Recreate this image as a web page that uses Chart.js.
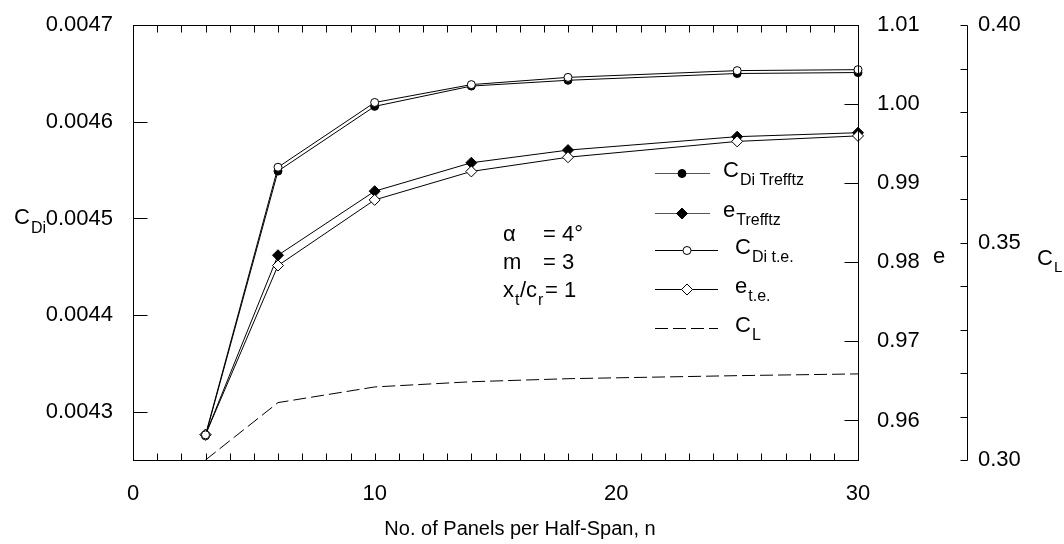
<!DOCTYPE html>
<html>
<head>
<meta charset="utf-8">
<script src="https://cdn.jsdelivr.net/npm/chart.js@4"></script>
<style>
  html, body { margin: 0; padding: 0; background: #fff; }
  #wrap { width: 1064px; height: 544px; }
</style>
</head>
<body>
<div id="wrap"><canvas id="chart" width="1064" height="544"></canvas></div>
<script>
// panels per half-span, n
const panels = [3, 6, 10, 14, 18, 25, 30];

// induced drag coefficient (left axis)
const cdiTrefftz = [0.004275, 0.004549, 0.004616, 0.004637, 0.004643, 0.004650, 0.004651];
const cdiTE      = [0.004276, 0.004553, 0.004620, 0.0046385, 0.004646, 0.004653, 0.004654];

// span efficiency e (first right axis)
const eTrefftz = [0.9582, 0.9809, 0.9890, 0.9926, 0.9942, 0.9959, 0.9964];
const eTE      = [0.9582, 0.9796, 0.9879, 0.9915, 0.9933, 0.9953, 0.9960];

// lift coefficient (second right axis)
const cl = [0.300, 0.3132, 0.3168, 0.3180, 0.3187, 0.3194, 0.3198];

// tick values
const xTicks = [0, 1, 2, 3, 4, 5, 6, 7, 8, 9, 10, 11, 12, 13, 14, 15, 16, 17, 18, 19, 20,
                21, 22, 23, 24, 25, 26, 27, 28, 29, 30];
const cdiTicks = [0.0043, 0.0044, 0.0045, 0.0046, 0.0047];
const eTicks = [0.96, 0.97, 0.98, 0.99, 1.00, 1.01];
const clTicks = [0.30, 0.31, 0.32, 0.33, 0.34, 0.35, 0.36, 0.37, 0.38, 0.39, 0.40];
const clLabelled = [0.30, 0.35, 0.40];

const FONT = "'Liberation Sans', Arial, sans-serif";
const tickFont = { family: FONT, size: 22 };

const pts = arr => panels.map((x, i) => ({ x: x, y: arr[i] }));

function setTicks(list) {
    return scale => { scale.ticks = list.map(v => ({ value: v })); };
}

// draws a label with a subscript part
function subText(ctx, x, y, main, sub, size, subSize, drop) {
    ctx.font = size + 'px ' + FONT;
    ctx.fillText(main, x, y);
    const w = ctx.measureText(main).width;
    ctx.font = subSize + 'px ' + FONT;
    ctx.fillText(sub, x + w + 1, y + drop);
}

const decorations = {
    id: 'decorations',
    afterDraw(chart) {
        const { ctx, chartArea: a, scales } = chart;
        const P = Chart.helpers.drawPoint;
        ctx.save();
        ctx.strokeStyle = '#000';
        ctx.lineWidth = 1;
        const seg = (x1, y1, x2, y2) => {
            ctx.beginPath(); ctx.moveTo(x1, y1); ctx.lineTo(x2, y2); ctx.stroke();
        };
        const L = Math.round(a.left) + 0.5, R = Math.round(a.right) + 0.5;
        const T = Math.round(a.top) + 0.5, B = Math.round(a.bottom) + 0.5;

        // frame
        ctx.strokeRect(L, T, R - L, B - T);

        // x ticks, bottom and top, pointing inward
        scales.x.ticks.forEach(t => {
            const px = Math.round(scales.x.getPixelForValue(t.value)) + 0.5;
            seg(px, B, px, B - 7);
            seg(px, T, px, T + 7);
        });
        // left axis ticks
        scales.y.ticks.forEach(t => {
            const py = Math.round(scales.y.getPixelForValue(t.value)) + 0.5;
            seg(L, py, L + 14, py);
        });
        // e axis ticks
        scales.e.ticks.forEach(t => {
            const py = Math.round(scales.e.getPixelForValue(t.value)) + 0.5;
            seg(R - 14, py, R, py);
        });
        // CL axis, separate line
        const cx = Math.round(scales.cl.left + 9) + 0.5;
        seg(cx, T, cx, B);
        scales.cl.ticks.forEach(t => {
            const py = Math.round(scales.cl.getPixelForValue(t.value)) + 0.5;
            seg(cx - 7, py, cx, py);
        });

        ctx.fillStyle = '#000';
        ctx.textBaseline = 'alphabetic';
        ctx.textAlign = 'left';

        // axis titles
        subText(ctx, 14, 224, 'C', 'Di', 22, 16, 9);
        ctx.font = '22px ' + FONT;
        ctx.fillText('e', 933, 263);
        subText(ctx, 1037, 265, 'C', 'L', 22, 15, 7);
        ctx.textAlign = 'center';
        ctx.font = '20px ' + FONT;
        ctx.fillText('No. of Panels per Half-Span, n', 520, 535);
        ctx.textAlign = 'left';

        // parameters
        ctx.font = '22px ' + FONT;
        ctx.fillText('\u03b1', 503, 241);
        ctx.fillText('= 4\u00b0', 543, 241);
        ctx.fillText('m', 503, 269);
        ctx.fillText('= 3', 543, 269);
        ctx.fillText('x', 503, 297);
        ctx.fillText('/c', 520, 297);
        ctx.fillText('= 1', 545, 297);
        ctx.font = '16px ' + FONT;
        ctx.fillText('t', 515, 305);
        ctx.fillText('r', 538, 305);

        // legend
        const rows = [
            { y: 173, x2: 710, mx: 682, tx: 723, main: 'C', sub: 'Di Trefftz', style: 'circle', r: 4, fill: '#000', stroke: '#555' },
            { y: 213, x2: 710, mx: 682, tx: 723, main: 'e', sub: 'Trefftz', style: 'rectRot', r: 5.5, fill: '#000', stroke: '#555' },
            { y: 250, x2: 718, mx: 687, tx: 735, main: 'C', sub: 'Di t.e.', style: 'circle', r: 4, fill: '#fff', stroke: '#000' },
            { y: 289, x2: 718, mx: 687, tx: 735, main: 'e', sub: 't.e.', style: 'rectRot', r: 5.5, fill: '#fff', stroke: '#000' },
            { y: 328, x2: 718, mx: null, tx: 735, main: 'C', sub: 'L', dash: true, stroke: '#000' }
        ];
        rows.forEach(r => {
            const y = r.y + 0.5;
            ctx.strokeStyle = r.stroke;
            if (r.dash) ctx.setLineDash([13, 5]);
            seg(655, y, r.x2, y);
            ctx.setLineDash([]);
            if (r.mx !== null) {
                ctx.fillStyle = r.fill;
                ctx.strokeStyle = '#000';
                P(ctx, { pointStyle: r.style, radius: r.r, rotation: 0, borderWidth: 1 }, r.mx, y);
            }
            ctx.fillStyle = '#000';
            subText(ctx, r.tx, r.y + 4, r.main, r.sub, 22, 16, 8);
        });
        ctx.restore();
    }
};

const ctx = document.getElementById('chart').getContext('2d');

new Chart(ctx, {
    type: 'line',
    data: {
        datasets: [
            {
                data: pts(cdiTE), yAxisID: 'y', order: 0,
                borderColor: '#000', borderWidth: 1,
                pointStyle: 'circle', pointRadius: 4, pointBackgroundColor: '#fff',
                pointBorderColor: '#000', pointBorderWidth: 1, clip: false
            },
            {
                data: pts(eTE), yAxisID: 'e', order: 0,
                borderColor: '#000', borderWidth: 1,
                pointStyle: 'rectRot', pointRadius: 5.5, pointBackgroundColor: '#fff',
                pointBorderColor: '#000', pointBorderWidth: 1, clip: false
            },
            {
                data: pts(cdiTrefftz), yAxisID: 'y', order: 1,
                borderColor: '#000', borderWidth: 1,
                pointStyle: 'circle', pointRadius: 4, pointBackgroundColor: '#000',
                pointBorderColor: '#000', pointBorderWidth: 1, clip: false
            },
            {
                data: pts(eTrefftz), yAxisID: 'e', order: 1,
                borderColor: '#000', borderWidth: 1,
                pointStyle: 'rectRot', pointRadius: 5.5, pointBackgroundColor: '#000',
                pointBorderColor: '#000', pointBorderWidth: 1, clip: false
            },
            {
                data: pts(cl), yAxisID: 'cl', order: 2,
                borderColor: '#000', borderWidth: 1, borderDash: [13, 5],
                pointRadius: 0, clip: false
            }
        ]
    },
    options: {
        responsive: false,
        animation: false,
        layout: { padding: { top: 21, left: 0, right: 0, bottom: 0 } },
        plugins: { legend: { display: false }, tooltip: { enabled: false } },
        scales: {
            x: {
                type: 'linear', position: 'bottom', min: 0, max: 30,
                grid: { display: false }, border: { display: false },
                afterBuildTicks: setTicks(xTicks),
                afterFit: s => { s.height = 84; },
                ticks: {
                    autoSkip: false, maxRotation: 0, padding: 13, color: '#000', font: tickFont,
                    callback: v => (v % 10 === 0 ? String(v) : '')
                }
            },
            y: {
                position: 'left', min: 0.00425, max: 0.0047,
                grid: { display: false }, border: { display: false },
                afterBuildTicks: setTicks(cdiTicks),
                afterFit: s => { s.width = 133; },
                ticks: { padding: 12, color: '#000', font: tickFont, callback: v => v.toFixed(4) }
            },
            e: {
                position: 'right', weight: 0, min: 0.955, max: 1.01,
                grid: { display: false }, border: { display: false },
                afterBuildTicks: setTicks(eTicks),
                afterFit: s => { s.width = 100; },
                ticks: { padding: 11, color: '#000', font: tickFont, callback: v => v.toFixed(2) }
            },
            cl: {
                position: 'right', weight: 1, min: 0.30, max: 0.40,
                grid: { display: false }, border: { display: false },
                afterBuildTicks: setTicks(clTicks),
                afterFit: s => { s.width = 106; },
                ticks: {
                    autoSkip: false, padding: 12, color: '#000', font: tickFont,
                    callback: v => (clLabelled.some(c => Math.abs(c - v) < 1e-6) ? v.toFixed(2) : '')
                }
            }
        }
    },
    plugins: [decorations]
});
</script>
</body>
</html>
